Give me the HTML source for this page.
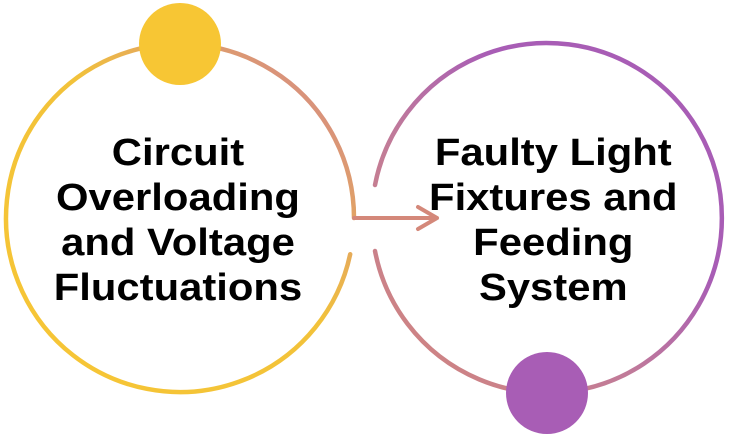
<!DOCTYPE html>
<html><head><style>
html,body{margin:0;padding:0;background:#fff;width:731px;height:437px;overflow:hidden}
svg{display:block}
text{font-family:"Liberation Sans",sans-serif;font-weight:bold;font-size:38px;fill:#000}
</style></head><body>
<svg width="731" height="437" viewBox="0 0 731 437">
<defs>
<linearGradient id="g1" x1="0" y1="1" x2="1" y2="0">
<stop offset="0" stop-color="#F7C634"/><stop offset="0.55" stop-color="#F2C23A"/><stop offset="0.85" stop-color="#D9937A"/><stop offset="1" stop-color="#D4887A"/>
</linearGradient>
<linearGradient id="g2" x1="0" y1="1" x2="1" y2="0">
<stop offset="0" stop-color="#D4887A"/><stop offset="0.4" stop-color="#C07A9A"/><stop offset="0.65" stop-color="#A85DB5"/><stop offset="1" stop-color="#A85DB5"/>
</linearGradient>
</defs>
<path d="M354 218 A174 174 0 1 0 350.2 254.2" fill="none" stroke="url(#g1)" stroke-width="4.5" stroke-linecap="round"/>
<path d="M375 185 A175 175 0 1 1 375 251" fill="none" stroke="url(#g2)" stroke-width="4.5" stroke-linecap="round"/>
<path d="M354 218 H437 M418 207 L437 218 L418 229" fill="none" stroke="#D4887A" stroke-width="4" stroke-linecap="round" stroke-linejoin="round"/>
<circle cx="180" cy="44" r="41" fill="#F7C634"/>
<circle cx="547" cy="393" r="41" fill="#A85DB5"/>
<g text-anchor="middle" transform="scale(1.1 1)">
<text x="161.8" y="165">Circuit</text>
<text x="161.8" y="210">Overloading</text>
<text x="161.8" y="255">and Voltage</text>
<text x="161.8" y="300">Fluctuations</text>
<text x="503" y="165">Faulty Light</text>
<text x="503" y="210">Fixtures and</text>
<text x="503" y="255">Feeding</text>
<text x="503" y="300">System</text>
</g>
</svg>
</body></html>
